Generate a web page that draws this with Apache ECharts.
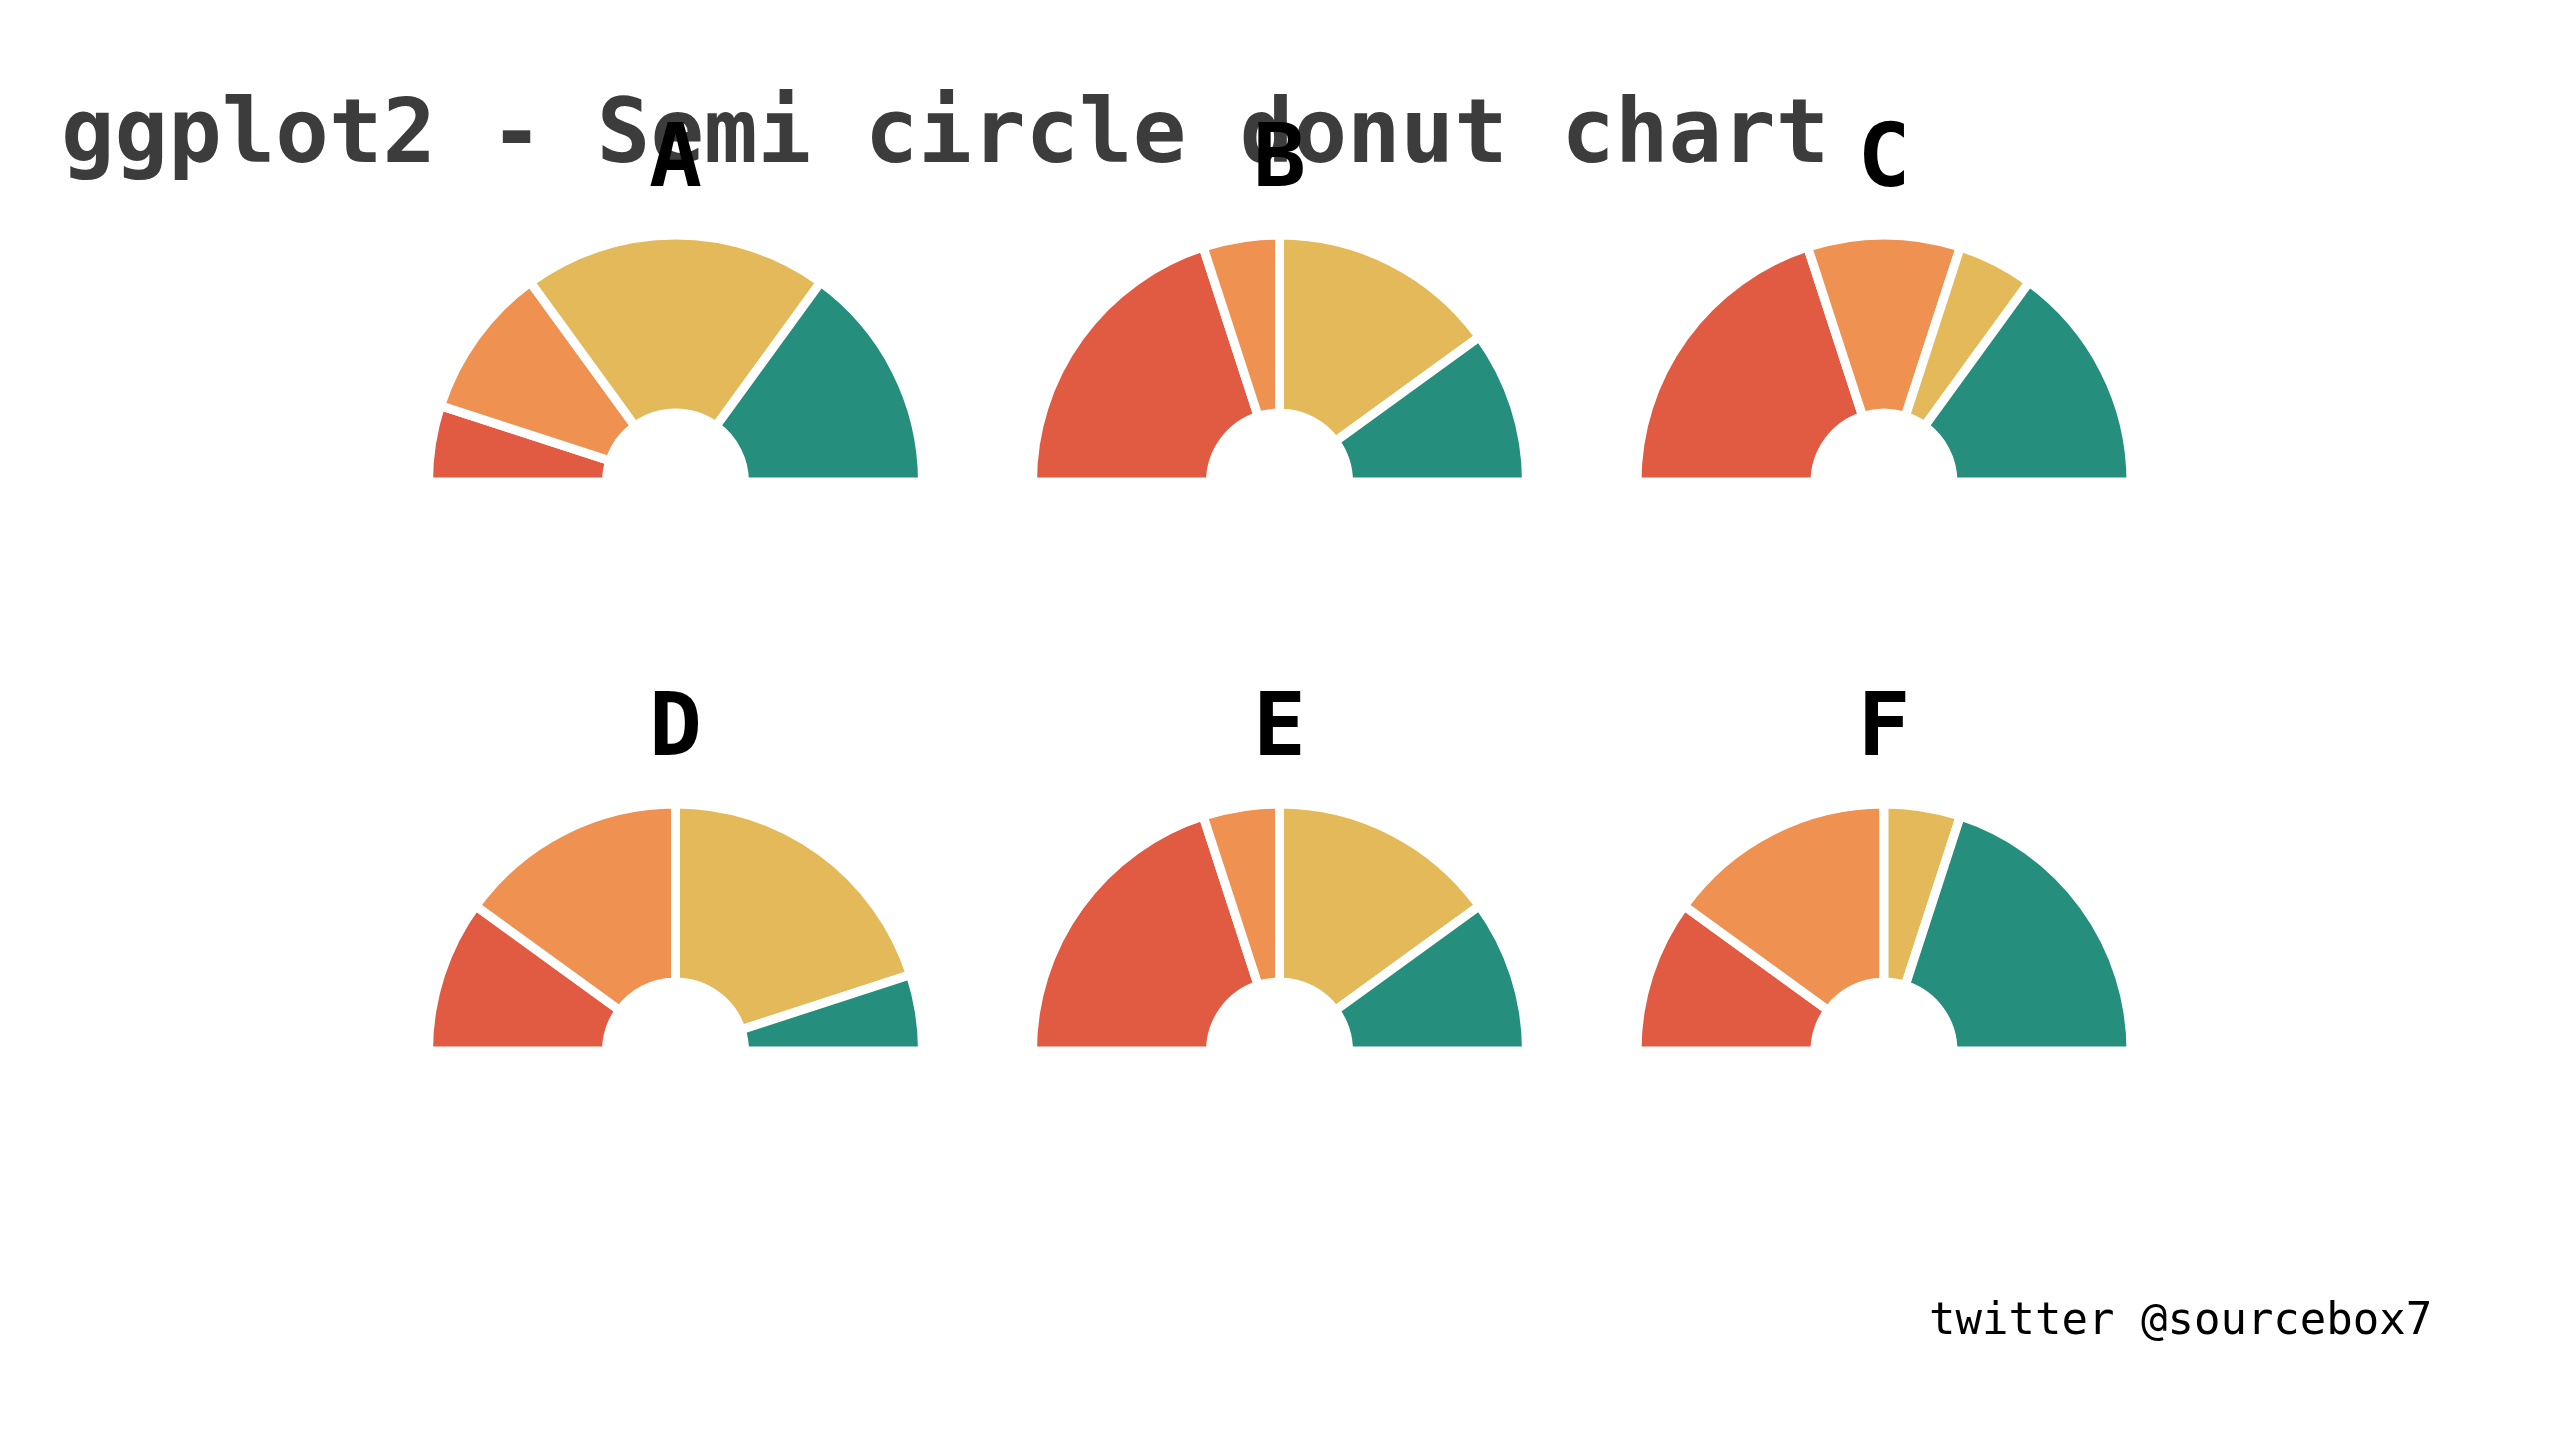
<!DOCTYPE html>
<html>
<head>
<meta charset="utf-8">
<style>
  html, body { margin: 0; padding: 0; background: #ffffff; }
  #chart { width: 2560px; height: 1440px; }
</style>
<script src="https://cdn.jsdelivr.net/npm/echarts@6/dist/echarts.min.js"></script>
</head>
<body>
<div id="chart"></div>
<script>
// ---- data ----
const panels = ['A', 'B', 'C', 'D', 'E', 'F'];
const categories = ['Level 1', 'Level 2', 'Level 3', 'Level 4'];
const valuesA = [10, 20, 40, 30];
const valuesB = [40, 10, 30, 20];
const valuesC = [40, 20, 10, 30];
const valuesD = [20, 30, 40, 10];
const valuesE = [40, 10, 30, 20];
const valuesF = [20, 30, 10, 40];
const titleText = 'ggplot2 - Semi circle donut chart';
const captionText = 'twitter @sourcebox7';

// ---- style ----
const colors = ['#E05B42', '#EF9150', '#E3B95A', '#258E7D'];
const panelValues = [valuesA, valuesB, valuesC, valuesD, valuesE, valuesF];
const colX = [675.5, 1279.5, 1884];
const rowY = [482, 1051];
const rIn = 69, rOut = 247;
const monoFont = '"DejaVu Sans Mono", "Liberation Mono", monospace';

const chart = echarts.init(document.getElementById('chart'), null, { width: 2560, height: 1440 });

const series = panels.map((p, i) => {
  const cx = colX[i % 3], cy = rowY[Math.floor(i / 3)];
  return {
    type: 'pie',
    name: p,
    center: [cx, cy],
    radius: [rIn, rOut],
    startAngle: 180,
    endAngle: 0,
    clockwise: true,
    silent: true,
    animation: false,
    label: { show: false },
    labelLine: { show: false },
    itemStyle: { borderColor: '#ffffff', borderWidth: 9 },
    data: categories.map((c, k) => ({
      name: c,
      value: panelValues[i][k],
      itemStyle: { color: colors[k] }
    }))
  };
});

const graphics = [
  {
    type: 'text', left: 61, top: 94, z: 10,
    style: { text: titleText, font: 'bold 89px ' + monoFont, fill: '#3C3C3C' }
  },
  {
    type: 'text', left: 1929, top: 1301, z: 10,
    style: { text: captionText, font: '44px ' + monoFont, fill: '#000000' }
  }
];
panels.forEach((p, i) => {
  const cx = colX[i % 3], cy = rowY[Math.floor(i / 3)];
  graphics.push({
    type: 'text', x: cx, y: cy - 319, z: 20,
    style: { text: p, font: 'bold 88px ' + monoFont, fill: '#000000', align: 'center', verticalAlign: 'middle' }
  });
});

chart.setOption({
  backgroundColor: '#ffffff',
  animation: false,
  series: series,
  graphic: graphics
});
</script>
</body>
</html>
